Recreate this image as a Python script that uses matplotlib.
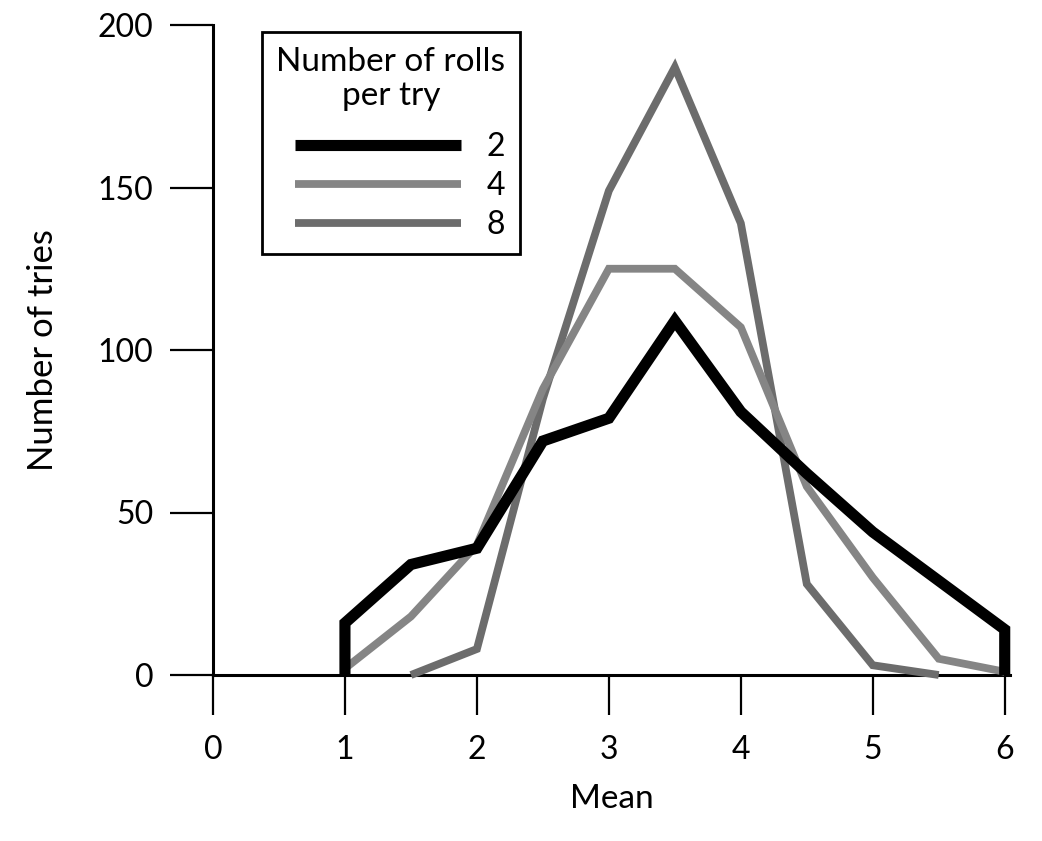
import matplotlib
matplotlib.use("Agg")
import matplotlib.pyplot as plt

# dados (média de lançamentos de dado)
x_2 = [1, 1, 1.5, 2, 2.5, 3, 3.5, 4, 4.5, 5, 5.5, 6, 6]
y_2 = [0, 16, 34, 39, 72, 79, 109, 81, 62, 44, 29, 14, 0]

x_4 = [1, 1.5, 2, 2.5, 3, 3.5, 4, 4.5, 5, 5.5, 6]
y_4 = [2, 18, 40, 88, 125, 125, 107, 58, 30, 5, 1]

x_8 = [1.5, 2, 2.5, 3, 3.5, 4, 4.5, 5, 5.5]
y_8 = [0, 8, 85, 149, 187, 139, 28, 3, 0]

x_ticks = [0, 1, 2, 3, 4, 5, 6]
y_ticks = [0, 50, 100, 150, 200]

plt.rcParams["font.family"] = ["Lato", "DejaVu Sans"]

fig = plt.figure(figsize=(10.42, 8.41), dpi=100)
ax = fig.add_axes([213 / 1042, 166 / 841, 797 / 1042, 650 / 841])

estilo = dict(clip_on=False, solid_joinstyle="miter", solid_capstyle="butt")
ax.plot(x_8, y_8, color="#6c6c6c", linewidth=5.6, label="8", zorder=3, **estilo)
ax.plot(x_4, y_4, color="#858585", linewidth=5.6, label="4", zorder=4, **estilo)
ax.plot(x_2, y_2, color="black", linewidth=8, label="2", zorder=5, **estilo)

ax.set_xlim(0, 6.04)
ax.set_ylim(0, 200)
ax.set_xticks(x_ticks)
ax.set_yticks(y_ticks)
ax.spines["top"].set_visible(False)
ax.spines["right"].set_visible(False)
ax.spines["left"].set_linewidth(2.2)
ax.spines["bottom"].set_linewidth(2.2)
ax.tick_params(axis="x", direction="out", length=29, width=1.6, pad=14, labelsize=23)
ax.tick_params(axis="y", direction="out", length=31, width=1.6, pad=12, labelsize=23)

ax.set_xlabel("Mean", fontsize=24, labelpad=14)
ax.set_ylabel("Number of tries", fontsize=25, labelpad=28)

handles, labels = ax.get_legend_handles_labels()
order = [2, 1, 0]
leg = ax.legend([handles[i] for i in order], [labels[i] for i in order],
                title="Number of rolls\nper try", loc="upper left",
                bbox_to_anchor=(0.0615, 0.989), borderaxespad=0,
                fontsize=23, title_fontsize=24,
                handlelength=5.2, handletextpad=0.8, labelspacing=0.28,
                borderpad=0.45, fancybox=False, edgecolor="black", framealpha=1)
leg.get_frame().set_linewidth(2)
leg.get_title().set_multialignment("center")
leg._legend_box.align = "right"
leg._legend_box.sep = 15

fig.savefig("out.png", dpi=100)
